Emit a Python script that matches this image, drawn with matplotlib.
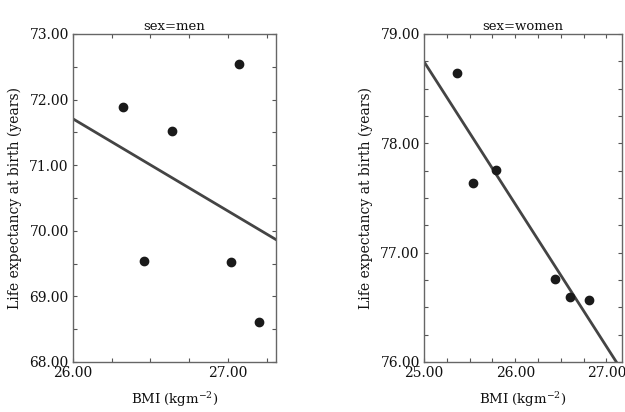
import matplotlib
matplotlib.use("Agg")
import matplotlib.pyplot as plt
from matplotlib.ticker import MultipleLocator, FormatStrFormatter
import numpy as np

# data
men_bmi = [26.32, 26.46, 26.64, 27.07, 27.02, 27.20]
men_le = [71.89, 69.54, 71.52, 72.54, 69.52, 68.61]

women_bmi = [25.36, 25.54, 25.79, 26.44, 26.60, 26.81]
women_le = [78.64, 77.64, 77.76, 76.76, 76.59, 76.57]

plt.rcParams['font.family'] = ['DejaVu Serif']
plt.rcParams['mathtext.fontset'] = 'dejavuserif'

fig = plt.figure(figsize=(6.25, 4.12), dpi=100)
ax1 = fig.add_axes([0.1168, 0.1214, 0.3248, 0.7961])
ax2 = fig.add_axes([0.6784, 0.1214, 0.3168, 0.7961])

panels = [
    (ax1, men_bmi, men_le, "sex=men", (26.0, 27.31), (68, 73), 0.25, 0.5),
    (ax2, women_bmi, women_le, "sex=women", (25.0, 27.17), (76, 79), 0.25, 0.25),
]

for ax, x, y, title, xlim, ylim, xminor, yminor in panels:
    # fitted line
    k, b = np.polyfit(x, y, 1)
    xs = np.array(xlim)
    ax.plot(xs, k * xs + b, color='#444444', lw=2.0, zorder=2)
    ax.scatter(x, y, s=36, color='#1a1a1a', zorder=3)

    ax.set_xlim(xlim)
    ax.set_ylim(ylim)
    ax.xaxis.set_major_locator(MultipleLocator(1))
    ax.xaxis.set_minor_locator(MultipleLocator(xminor))
    ax.yaxis.set_major_locator(MultipleLocator(1))
    ax.yaxis.set_minor_locator(MultipleLocator(yminor))
    ax.xaxis.set_major_formatter(FormatStrFormatter('%.2f'))
    ax.yaxis.set_major_formatter(FormatStrFormatter('%.2f'))
    ax.tick_params(which='both', direction='in', top=True, right=True,
                   color='#555555', width=0.8, labelsize=10, labelcolor='#111111')
    ax.tick_params(which='major', length=3, pad=3)
    ax.tick_params(which='minor', length=3)
    for sp in ax.spines.values():
        sp.set_color('#666666')
        sp.set_linewidth(1.0)

    ax.set_title(title, fontsize=9.5, color='#111111', pad=3)
    ax.set_xlabel("BMI (kgm$^{-2}$)", fontsize=9.5, color='#111111', labelpad=7)
    ax.set_ylabel("Life expectancy at birth (years)", fontsize=10, color='#111111', labelpad=5)

fig.savefig("out.png", dpi=100)
